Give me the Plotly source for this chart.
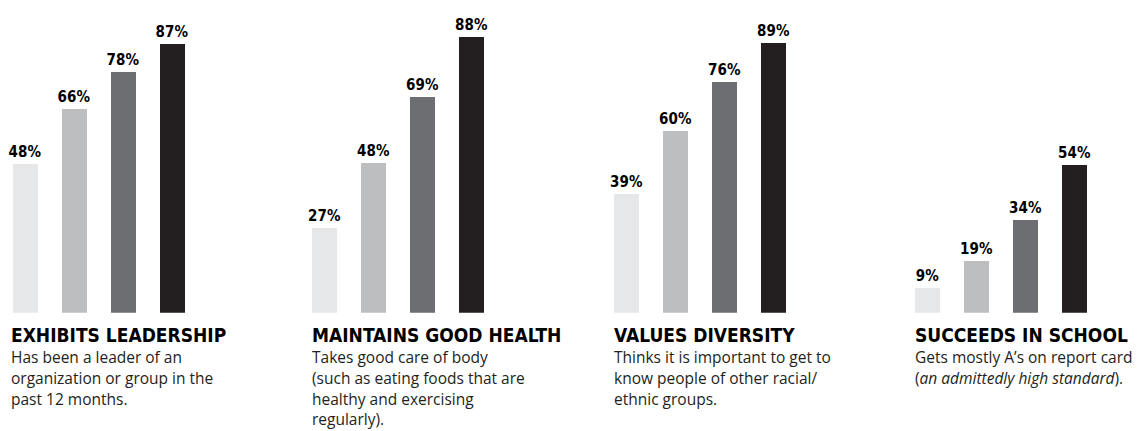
import plotly.graph_objects as go

# ---- data ----
titles = ["EXHIBITS LEADERSHIP", "MAINTAINS GOOD HEALTH", "VALUES DIVERSITY", "SUCCEEDS IN SCHOOL"]
values = [
    [48, 66, 78, 87],
    [27, 48, 69, 88],
    [39, 60, 76, 89],
    [9, 19, 34, 54],
]
subtitles = [
    ["Has been a leader of an", "organization or group in the", "past 12 months."],
    ["Takes good care of body", "(such as eating foods that are", "healthy and exercising", "regularly)."],
    ["Thinks it is important to get to", "know people of other racial/", "ethnic groups."],
    ["Gets mostly A\u2019s on report card", "(<i>an admittedly high standard</i>)."],
]
bar_index = [0, 1, 2, 3]
bar_colors = ["#e6e7e8", "#bcbec0", "#6d6e71", "#231f20"]

# ---- layout geometry (window pixels; page body has an 8px margin) ----
OFF = 8
W, H = 1145 - OFF, 431 - OFF
baseline_px = 312.7 - OFF
first_bar_center = [c - OFF for c in (24.5, 324.0, 626.0, 927.0)]
step_px = 49.0
bar_px = 25.0
px_per_pct = [3.091, 3.129, 3.035, 2.740]
text_left = [x - OFF - 2 for x in (11, 312, 614, 915)]
title_center = 335.0 - OFF
sub_center0 = 357.3 - OFF
sub_step = 20.6

NARROW = "DejaVu Sans Condensed, DejaVu Sans, sans-serif"
BODY = "Open Sans, Noto Sans, sans-serif"
INK = "#231f20"

fig = go.Figure()
layout = dict(
    width=W, height=H,
    margin=dict(l=0, r=0, t=0, b=0),
    paper_bgcolor="white", plot_bgcolor="white",
    showlegend=False, bargap=0,
)

y0 = (H - baseline_px) / H
annotations = []
for g in range(4):
    sfx = "" if g == 0 else str(g + 1)
    c0 = first_bar_center[g]
    a_px = c0 - 15
    b_px = c0 + 190
    fig.add_trace(go.Bar(
        x=bar_index, y=values[g],
        width=bar_px / step_px,
        marker=dict(color=bar_colors, line=dict(width=0)),
        text=[f"{v}%" for v in values[g]],
        textposition="outside",
        textfont=dict(family=NARROW, size=15, color="black", weight="bold"),
        constraintext="none",
        cliponaxis=False,
        hoverinfo="skip",
        xaxis="x" + sfx, yaxis="y" + sfx,
    ))
    layout["xaxis" + sfx] = dict(
        domain=[a_px / W, b_px / W],
        range=[(a_px - c0) / step_px, (b_px - c0) / step_px],
        visible=False, anchor="y" + sfx,
    )
    layout["yaxis" + sfx] = dict(
        domain=[y0, 1],
        range=[0, baseline_px / px_per_pct[g]],
        visible=False, anchor="x" + sfx,
    )
    annotations.append(dict(
        text=titles[g], xref="paper", yref="paper",
        x=text_left[g] / W, y=1 - title_center / H,
        xanchor="left", yanchor="middle", showarrow=False,
        font=dict(family=NARROW, size=19, color="black", weight="bold"),
    ))
    for i, line in enumerate(subtitles[g]):
        annotations.append(dict(
            text=line, xref="paper", yref="paper",
            x=text_left[g] / W, y=1 - (sub_center0 + sub_step * i) / H,
            xanchor="left", yanchor="middle", showarrow=False,
            font=dict(family=BODY, size=15.5, color=INK),
        ))

layout["annotations"] = annotations
fig.update_layout(**layout)
fig.write_html("out.html")
